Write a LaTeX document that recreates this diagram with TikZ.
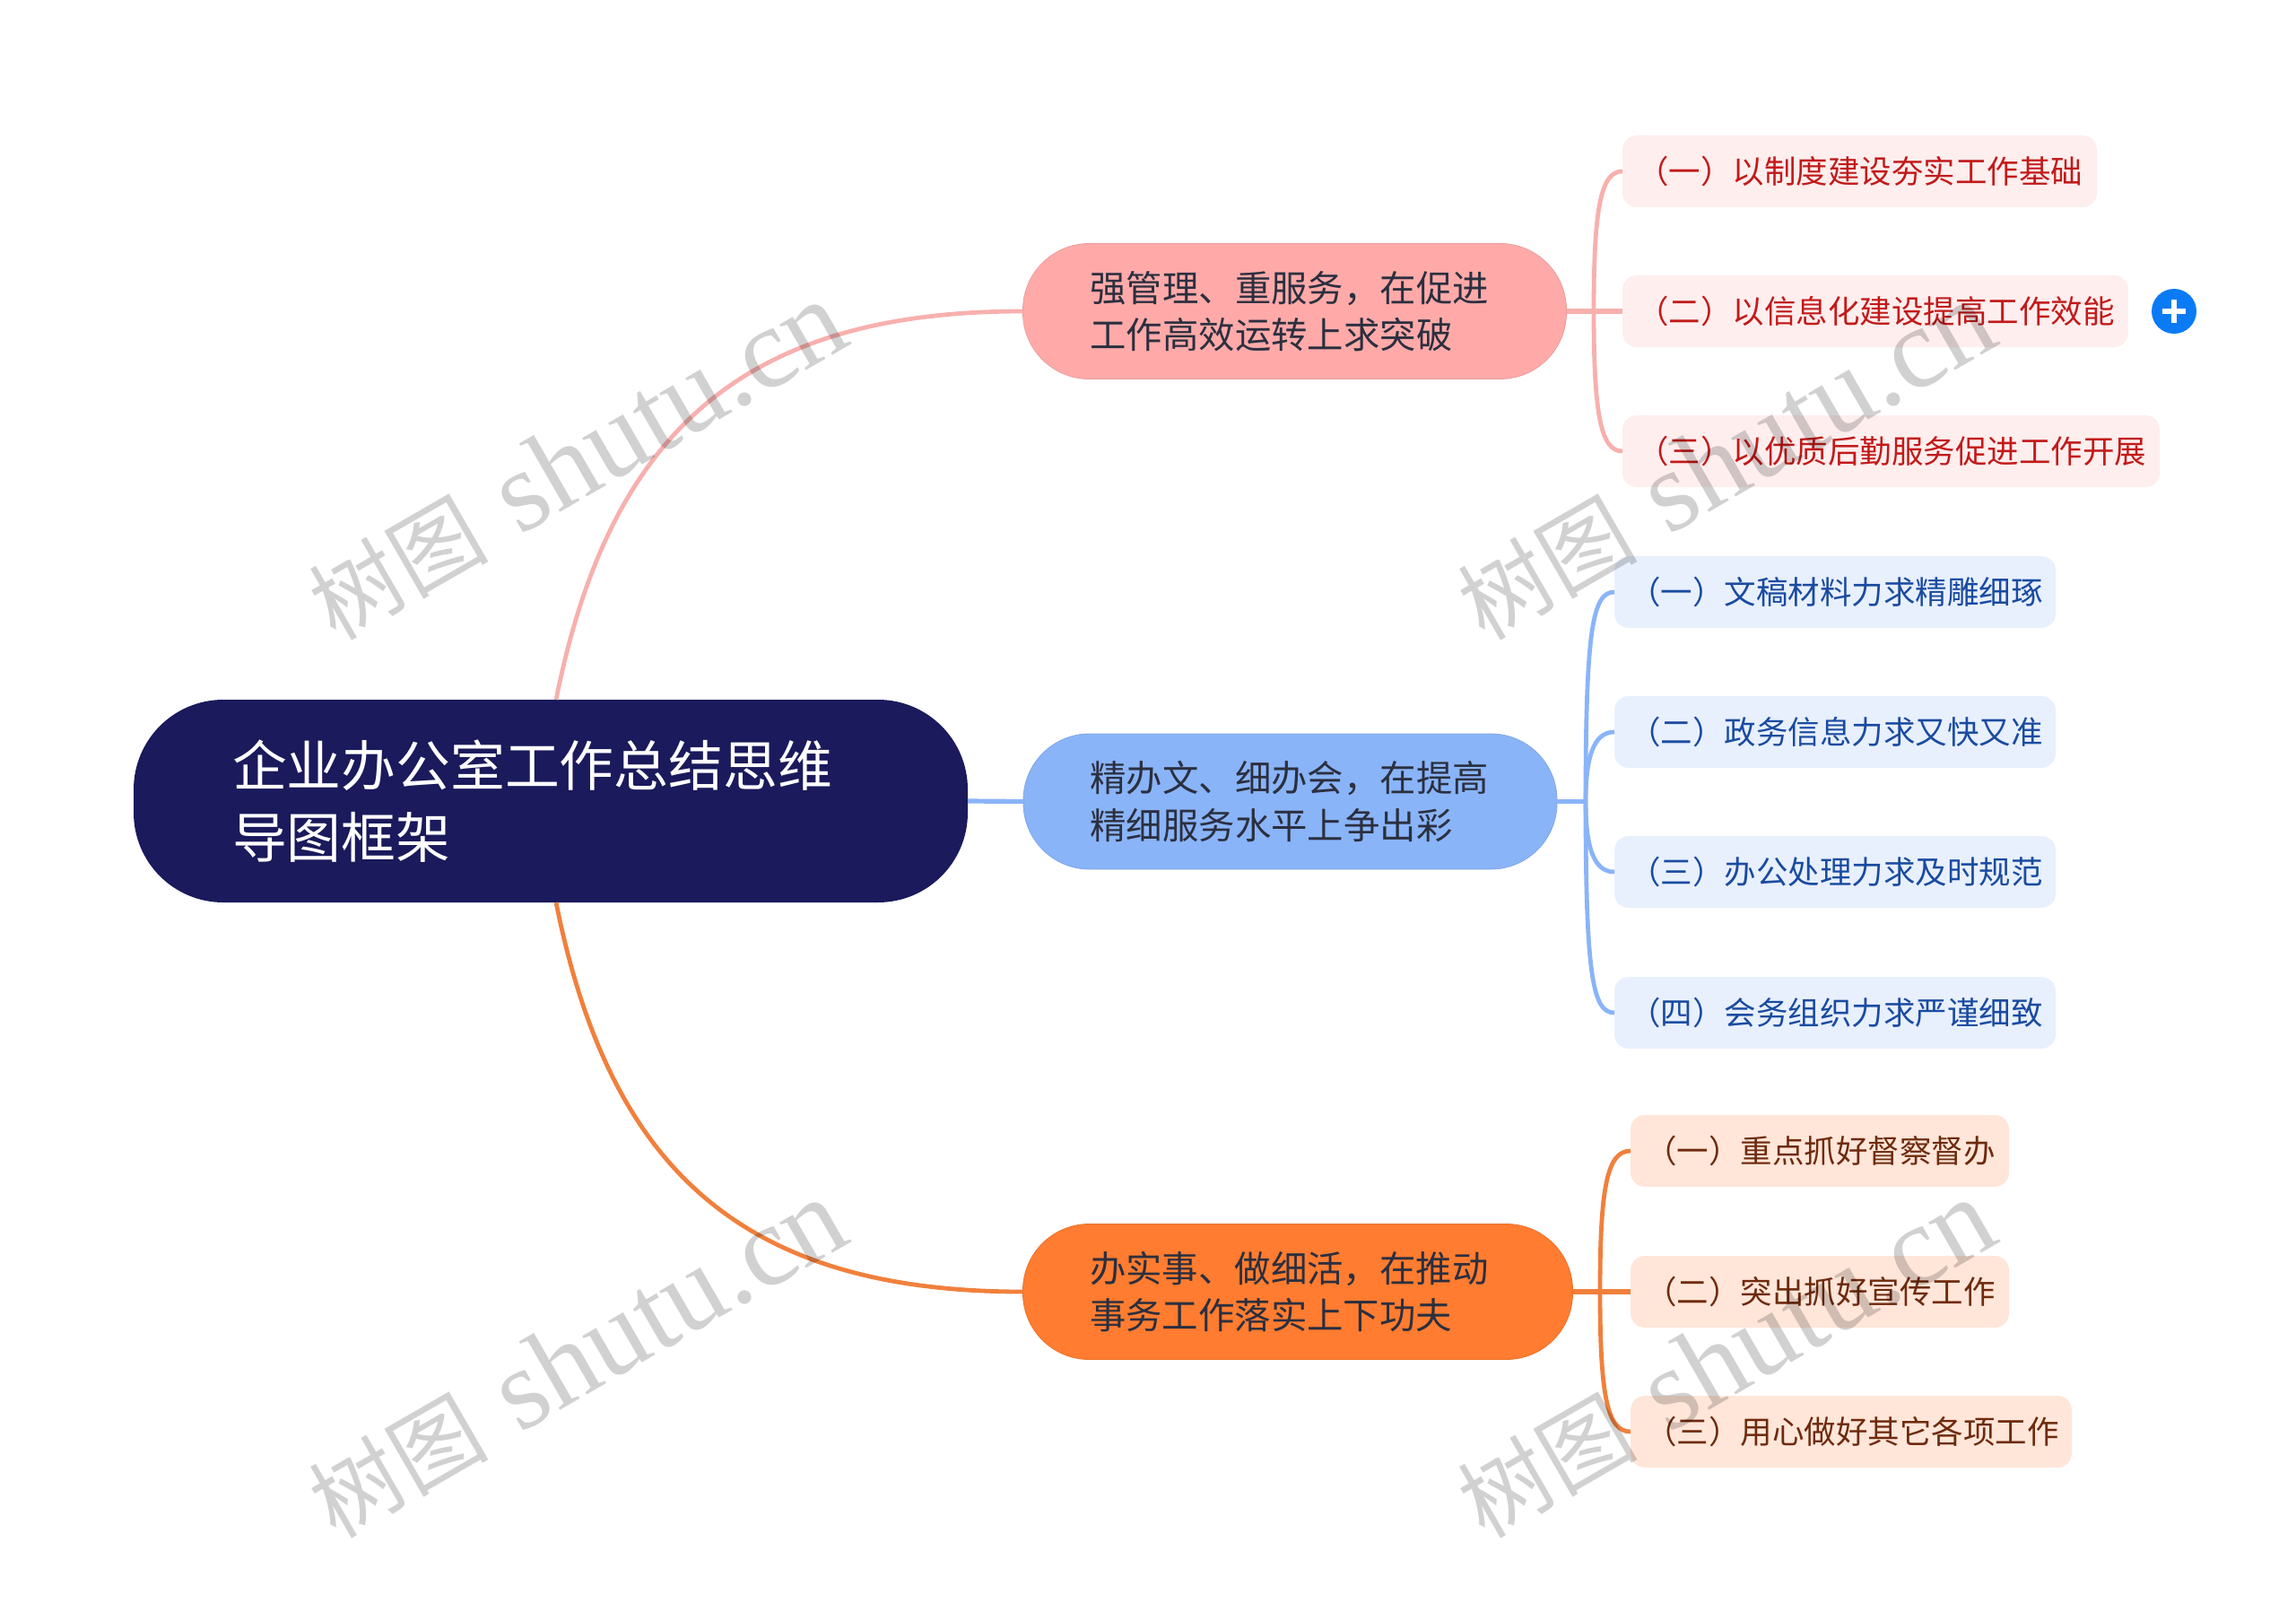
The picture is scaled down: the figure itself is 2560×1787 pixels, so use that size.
\documentclass[tikz,border=0pt]{standalone}
\usepackage{fontspec}
\setmainfont{Noto Sans CJK SC}
\newfontfamily\latinserif{Liberation Serif}
\usetikzlibrary{calc}
\definecolor{rootfill}{HTML}{1A1A5C}
\definecolor{redmid}{HTML}{FFAAA9}
\definecolor{redline}{HTML}{F7B0AE}
\definecolor{redleaf}{HTML}{FEEEEE}
\definecolor{redtext}{HTML}{C21A1A}
\definecolor{bluemid}{HTML}{8AB4F8}
\definecolor{blueleaf}{HTML}{E8F0FE}
\definecolor{bluetext}{HTML}{1A4BA0}
\definecolor{orangemid}{HTML}{FF7C30}
\definecolor{orangeline}{HTML}{F0803C}
\definecolor{orangeleaf}{HTML}{FFE6D9}
\definecolor{orangetext}{HTML}{6E2A0D}
\definecolor{midtext}{HTML}{2B2F3F}
\definecolor{plusblue}{HTML}{0A7BF5}
\tikzset{
 box/.style={inner sep=0pt,outer sep=0pt,align=left},
 rootbox/.style={box,fill=rootfill,text=white,rounded corners=50pt,font=\fontsize{30.4}{40}\selectfont},
 midbox/.style={box,rounded corners=37pt,text=midtext,font=\fontsize{20.2}{26.3}\selectfont},
 leafbox/.style={box,rounded corners=8pt,font=\fontsize{17.75}{22}\selectfont},
 redleafbox/.style={leafbox,fill=redleaf,text=redtext},
 blueleafbox/.style={leafbox,fill=blueleaf,text=bluetext},
 orangeleafbox/.style={leafbox,fill=orangeleaf,text=orangetext},
 link/.style={line width=2.4pt},
 watermark/.style={rotate=30,text=black,opacity=0.18,inner sep=0pt},
}
\newcommand{\wmtext}{\fontsize{50}{60}\selectfont 树图\hspace{18pt}{\latinserif\fontsize{64}{60}\selectfont shutu.cn}}
\newcommand{\lf}[1]{\raisebox{-1pt}{#1}}
\begin{document}
\begin{tikzpicture}[x=0.5pt,y=-0.5pt]
\useasboundingbox (0,0) rectangle (2560,1787);
% nodes
\node[rootbox,minimum width=465pt,minimum height=113pt,text width=355pt] (root) at (614,893) {企业办公室工作总结思维\\导图框架};
\node[midbox,fill=redmid,draw=redmid!92!black,line width=.4pt,minimum width=303pt,minimum height=75.5pt,text width=228pt] (m1) at (1443.5,347) {强管理、重服务，在促进\\工作高效运转上求突破};
\node[midbox,fill=bluemid,draw=bluemid!92!black,line width=.4pt,minimum width=297.5pt,minimum height=75.5pt,text width=223pt] (m2) at (1438.5,893.5) {精办文、细办会，在提高\\精细服务水平上争出彩};
\node[midbox,fill=orangemid,draw=orangemid!92!black,line width=.4pt,minimum width=306.5pt,minimum height=75.5pt,text width=232pt] (m3) at (1447,1440) {办实事、做细活，在推动\\事务工作落实上下功夫};
\node[redleafbox,minimum width=264.5pt,minimum height=40pt,text width=248.5pt] (a1) at (2073.5,191) {\lf{（一）以制度建设夯实工作基础}};
\node[redleafbox,minimum width=282pt,minimum height=40pt,text width=266pt] (a2) at (2091,347) {\lf{（二）以信息化建设提高工作效能}};
\node[redleafbox,minimum width=299.5pt,minimum height=40pt,text width=283.5pt] (a3) at (2108.5,503) {\lf{（三）以优质后勤服务促进工作开展}};
\node[blueleafbox,minimum width=246pt,minimum height=40pt,text width=230pt] (b1) at (2046,660) {\lf{（一）文稿材料力求精雕细琢}};
\node[blueleafbox,minimum width=246pt,minimum height=40pt,text width=230pt] (b2) at (2046,816) {\lf{（二）政务信息力求又快又准}};
\node[blueleafbox,minimum width=246pt,minimum height=40pt,text width=230pt] (b3) at (2046,972) {\lf{（三）办公处理力求及时规范}};
\node[blueleafbox,minimum width=246pt,minimum height=40pt,text width=230pt] (b4) at (2046,1129) {\lf{（四）会务组织力求严谨细致}};
\node[orangeleafbox,minimum width=211pt,minimum height=40pt,text width=195pt] (c1) at (2029,1283) {\lf{（一）重点抓好督察督办}};
\node[orangeleafbox,minimum width=211pt,minimum height=40pt,text width=195pt] (c2) at (2029,1440) {\lf{（二）突出抓好宣传工作}};
\node[orangeleafbox,minimum width=246pt,minimum height=40pt,text width=230pt] (c3) at (2064,1596) {\lf{（三）用心做好其它各项工作}};
\node[circle,fill=plusblue,minimum size=25pt,inner sep=0pt] (plus) at (2424,347) {};
\draw[white,line width=2.7pt] ([xshift=-6.5pt]plus.center) -- ([xshift=6.5pt]plus.center);
\draw[white,line width=2.7pt] ([yshift=-6.5pt]plus.center) -- ([yshift=6.5pt]plus.center);
% trunk junctions
\coordinate (ta) at (1777,347);
\coordinate (tb) at (1768,893.5);
\coordinate (tc) at (1784,1440);
% root connectors
\draw[link,redline] ([xshift=3pt]root.north) .. controls (680,480) and (830,347) .. (m1.west);
\draw[link,bluemid,line width=2.6pt] (root.east) -- (m2.west);
\draw[link,orangeline] ([xshift=3pt]root.south) .. controls (680,1306) and (830,1440) .. (m3.west);
% branch connectors
\draw[link,redline,line width=2.6pt] (m1.east) -- (a2.west);
\draw[link,redline] (ta) .. controls (1777,231) and (1785,191) .. (a1.west);
\draw[link,redline] (ta) .. controls (1777,463) and (1785,503) .. (a3.west);
\draw[link,bluemid,line width=2.6pt] (m2.east) -- (tb);
\draw[link,bluemid] (tb) .. controls (1768,700) and (1776,660) .. (b1.west);
\draw[link,bluemid] (tb) .. controls (1768,846) and (1776,816) .. (b2.west);
\draw[link,bluemid] (tb) .. controls (1768,942) and (1776,972) .. (b3.west);
\draw[link,bluemid] (tb) .. controls (1768,1089) and (1776,1129) .. (b4.west);
\draw[link,orangeline,line width=2.6pt] (m3.east) -- (c2.west);
\draw[link,orangeline] (tc) .. controls (1784,1323) and (1792,1283) .. (c1.west);
\draw[link,orangeline] (tc) .. controls (1784,1556) and (1792,1596) .. (c3.west);
% watermarks
\node[watermark] (w1) at (643,514) {\wmtext};
\node[watermark] (w2) at (1924,514) {\wmtext};
\node[watermark] (w3) at (643,1515) {\wmtext};
\node[watermark] (w4) at (1924,1515) {\wmtext};
\end{tikzpicture}
\end{document}
